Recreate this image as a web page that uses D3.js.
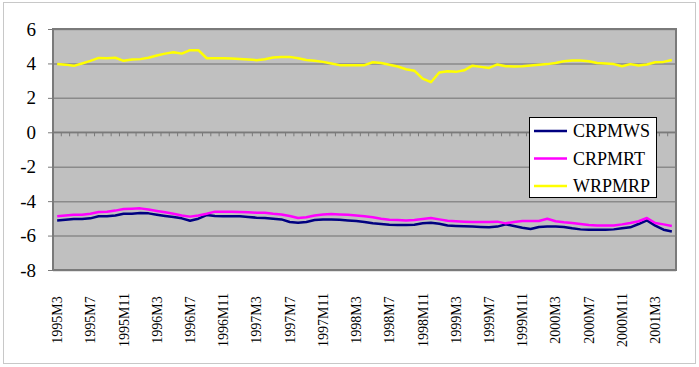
<!DOCTYPE html>
<html>
<head>
<meta charset="utf-8">
<script src="https://cdn.jsdelivr.net/npm/d3@7"></script>
<style>
  body { margin: 0; background: #fff; }
  svg text { fill: #000; }
</style>
</head>
<body>
<div id="chart"></div>
<script>
const WIDTH  = 699;
const HEIGHT = 367;
const PLOT   = { left: 53, top: 29, right: 676, bottom: 270 };
const FONT   = 'Liberation Serif, DejaVu Serif, Noto Serif, Times, serif';

// categories 1995M3 .. 2001M5
const months = [];
for (let y = 1995, m = 3; months.length < 75; ) {
  months.push(y + 'M' + m);
  m++; if (m > 12) { m = 1; y++; }
}
const yTicks = [-8, -6, -4, -2, 0, 2, 4, 6];

const crpmws = [
  -5.12, -5.08, -5.04, -5.04, -5.00, -4.88, -4.88, -4.83, -4.73, -4.73,
  -4.69, -4.71, -4.79, -4.86, -4.92, -5.00, -5.14, -5.02, -4.81, -4.86,
  -4.88, -4.88, -4.88, -4.92, -4.96, -4.98, -5.02, -5.06, -5.21, -5.25,
  -5.21, -5.10, -5.06, -5.06, -5.08, -5.12, -5.15, -5.21, -5.29, -5.33,
  -5.37, -5.39, -5.39, -5.37, -5.29, -5.25, -5.31, -5.41, -5.44, -5.46,
  -5.48, -5.50, -5.52, -5.48, -5.35, -5.44, -5.54, -5.62, -5.50, -5.48,
  -5.48, -5.50, -5.58, -5.64, -5.66, -5.66, -5.66, -5.64, -5.58, -5.52,
  -5.33, -5.12, -5.42, -5.66, -5.76
];
const crpmrt = [
  -4.88, -4.83, -4.79, -4.79, -4.73, -4.63, -4.61, -4.55, -4.46, -4.44,
  -4.42, -4.48, -4.57, -4.65, -4.73, -4.83, -4.90, -4.83, -4.73, -4.61,
  -4.61, -4.61, -4.63, -4.65, -4.67, -4.67, -4.73, -4.77, -4.86, -4.98,
  -4.94, -4.83, -4.77, -4.75, -4.77, -4.79, -4.83, -4.88, -4.94, -5.02,
  -5.08, -5.10, -5.12, -5.10, -5.04, -4.98, -5.06, -5.14, -5.17, -5.19,
  -5.21, -5.21, -5.21, -5.19, -5.29, -5.21, -5.15, -5.15, -5.15, -5.02,
  -5.17, -5.23, -5.27, -5.33, -5.39, -5.41, -5.41, -5.41, -5.35, -5.27,
  -5.17, -4.98, -5.27, -5.35, -5.44
];
const wrpmrp = [
  3.97, 3.93, 3.86, 4.00, 4.15, 4.32, 4.30, 4.33, 4.15, 4.23,
  4.25, 4.33, 4.46, 4.57, 4.65, 4.57, 4.77, 4.77, 4.30, 4.30,
  4.30, 4.28, 4.26, 4.23, 4.19, 4.24, 4.34, 4.38, 4.38, 4.30,
  4.20, 4.15, 4.09, 4.00, 3.90, 3.90, 3.90, 3.90, 4.07, 4.03,
  3.92, 3.82, 3.66, 3.58, 3.12, 2.91, 3.47, 3.55, 3.51, 3.60,
  3.87, 3.80, 3.74, 3.94, 3.84, 3.82, 3.84, 3.88, 3.92, 3.96,
  4.03, 4.13, 4.17, 4.17, 4.13, 4.03, 3.99, 3.96, 3.84, 3.96,
  3.88, 3.94, 4.07, 4.09, 4.20
];

const seriesNames  = ['CRPMWS', 'CRPMRT', 'WRPMRP'];
const seriesValues = [crpmws, crpmrt, wrpmrp];
const seriesColors = ['#000080', '#FF00FF', '#FFFF00'];

const svg = d3.select('#chart').append('svg')
  .attr('width', WIDTH)
  .attr('height', HEIGHT);

// chart area border
svg.append('rect')
  .attr('x', 3.5).attr('y', 2.5)
  .attr('width', 692).attr('height', 361)
  .attr('fill', '#fff')
  .attr('stroke', '#c8c8c8');

const x = d3.scaleBand().domain(months).range([PLOT.left, PLOT.right]);
const y = d3.scaleLinear().domain([-8, 6]).range([PLOT.bottom, PLOT.top]);
const cx = d => x(d) + x.bandwidth() / 2;

// plot area
svg.append('rect')
  .attr('x', PLOT.left).attr('y', PLOT.top)
  .attr('width', PLOT.right - PLOT.left).attr('height', PLOT.bottom - PLOT.top)
  .attr('fill', '#C0C0C0');

// gridlines
svg.append('g')
  .attr('transform', 'translate(' + PLOT.left + ',0)')
  .call(d3.axisLeft(y).tickValues(yTicks).tickSize(-(PLOT.right - PLOT.left)).tickFormat(''))
  .call(g => g.select('.domain').remove())
  .call(g => g.selectAll('line').attr('stroke', '#8a8a8a').attr('stroke-width', 1.5));

// plot border
svg.append('rect')
  .attr('x', PLOT.left).attr('y', PLOT.top)
  .attr('width', PLOT.right - PLOT.left).attr('height', PLOT.bottom - PLOT.top)
  .attr('fill', 'none')
  .attr('stroke', '#7a7a7a')
  .attr('stroke-width', 2);

// y axis
svg.append('g')
  .attr('transform', 'translate(' + PLOT.left + ',0)')
  .call(d3.axisLeft(y).tickValues(yTicks).tickSize(5).tickPadding(12).tickFormat(d => String(d)))
  .attr('font-family', FONT)
  .attr('font-size', 19)
  .call(g => g.select('.domain').remove())
  .call(g => g.selectAll('line').attr('stroke', '#7a7a7a'))
  .call(g => g.selectAll('text').attr('fill', '#000'));

// x axis at zero with ticks at band boundaries
const xAxis = svg.append('g');
xAxis.append('line')
  .attr('x1', PLOT.left).attr('x2', PLOT.right)
  .attr('y1', y(0)).attr('y2', y(0))
  .attr('stroke', '#7a7a7a').attr('stroke-width', 1.5);
xAxis.selectAll('.tick-mark')
  .data(months.concat(['end']))
  .join('line')
  .attr('x1', (d, i) => PLOT.left + i * x.step())
  .attr('x2', (d, i) => PLOT.left + i * x.step())
  .attr('y1', y(0)).attr('y2', y(0) + 4)
  .attr('stroke', '#7a7a7a');

// x labels, every fourth month
svg.append('g')
  .attr('font-family', FONT)
  .attr('font-size', 14)
  .selectAll('text')
  .data(months.filter((d, i) => i % 4 === 0))
  .join('text')
  .attr('transform', d => 'translate(' + cx(d) + ',320) rotate(-90)')
  .attr('text-anchor', 'middle')
  .attr('dy', '0.35em')
  .text(d => d);

// lines
const line = d3.line()
  .x((d, i) => cx(months[i]))
  .y(d => y(d));

seriesValues.forEach((vals, k) => {
  svg.append('path')
    .datum(vals)
    .attr('fill', 'none')
    .attr('stroke', seriesColors[k])
    .attr('stroke-width', 2.5)
    .attr('stroke-linejoin', 'round')
    .attr('d', line);
});

// legend
const legend = svg.append('g')
  .attr('font-family', FONT)
  .attr('font-size', 18);
legend.append('rect')
  .attr('x', 529.5).attr('y', 117.5)
  .attr('width', 127).attr('height', 80)
  .attr('fill', '#fff')
  .attr('stroke', '#000');
seriesNames.forEach((name, k) => {
  const ly = 131 + k * 27.5;
  legend.append('line')
    .attr('x1', 534).attr('x2', 567)
    .attr('y1', ly).attr('y2', ly)
    .attr('stroke', seriesColors[k])
    .attr('stroke-width', 2.5);
  legend.append('text')
    .attr('x', 573).attr('y', ly)
    .attr('dy', '0.35em')
    .text(name);
});
</script>
</body>
</html>
